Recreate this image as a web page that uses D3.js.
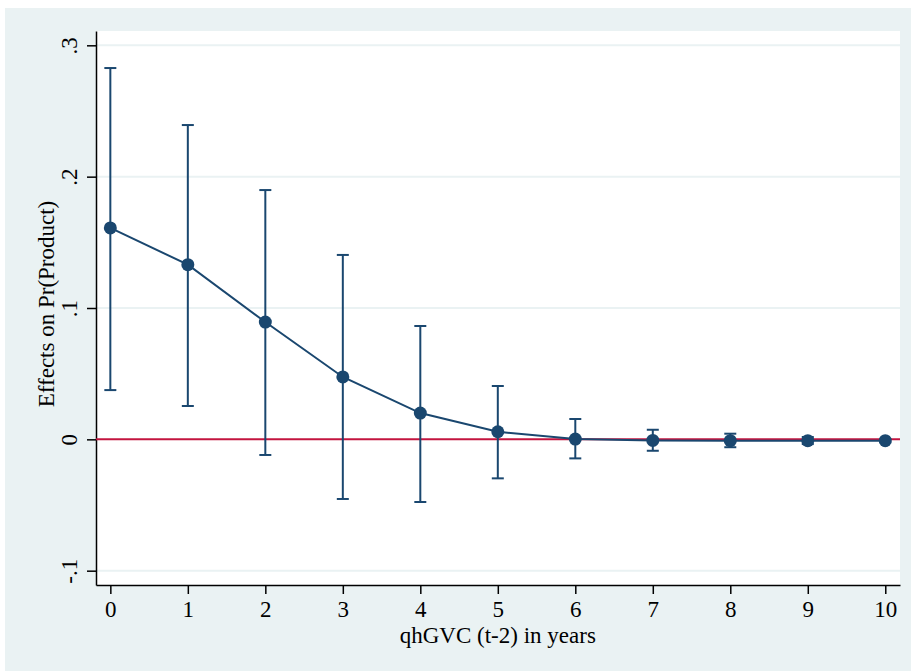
<!DOCTYPE html>
<html>
<head>
<meta charset="utf-8">
<script src="https://cdn.jsdelivr.net/npm/d3@7"></script>
<style>
  body { margin: 0; background: #fff; }
  text { font-family: "Liberation Serif", "DejaVu Serif", serif; }
</style>
</head>
<body>
<svg id="chart"></svg>
<script>
// annees de decalage
var years = [0, 1, 2, 3, 4, 5, 6, 7, 8, 9, 10];
// effets estimes et intervalles de confiance
var effects = [0.161, 0.133, 0.0893, 0.0475, 0.020, 0.0058, 0.0002, -0.0008, -0.001, -0.001, -0.001];
var upper   = [0.2827, 0.2393, 0.1898, 0.1404, 0.0863, 0.0406, 0.0155, 0.0073, 0.0043, 0.0018, 0.0002];
var lower   = [0.0375, 0.0254, -0.0119, -0.0454, -0.0477, -0.0297, -0.0145, -0.0087, -0.006, -0.0036, -0.0022];
var yTicks = [-0.1, 0, 0.1, 0.2, 0.3];
var yTickLabels = ["-.1", "0", ".1", ".2", ".3"];

var svgWidth = 911, svgHeight = 671;
var margin = { top: 31, right: 11, bottom: 86, left: 96 };
var width = svgWidth - margin.left - margin.right;
var height = svgHeight - margin.top - margin.bottom;

var navy = "#1a476f";
var red = "#c3143f";
var fontSize = 23;

var svg = d3.select("#chart")
    .attr("width", svgWidth)
    .attr("height", svgHeight);

// fond exterieur
svg.append("rect")
    .attr("x", 5).attr("y", 8)
    .attr("width", svgWidth - 5).attr("height", svgHeight - 8)
    .attr("fill", "#eaf2f3");

var g = svg.append("g")
    .attr("transform", "translate(" + margin.left + "," + margin.top + ")");

g.append("rect")
    .attr("width", width).attr("height", height)
    .attr("fill", "#fff");

var x = d3.scaleLinear().domain([-0.185, 10.19]).range([0, width]);
var y = d3.scaleLinear().domain([-0.1109, 0.3109]).range([height, 0]);

// grille
g.selectAll(".grid")
    .data(yTicks.filter(function(d) { return d !== 0; }))
    .enter().append("line")
    .attr("x1", 0).attr("x2", width)
    .attr("y1", function(d) { return y(d); })
    .attr("y2", function(d) { return y(d); })
    .attr("stroke", "#eaf2f3")
    .attr("stroke-width", 2);

// axe x
var xAxis = g.append("g")
    .attr("transform", "translate(0," + height + ")")
    .call(d3.axisBottom(x).tickValues(years).tickSizeInner(9).tickSizeOuter(0)
        .tickPadding(7).tickFormat(d3.format("d")));
xAxis.select(".domain").attr("stroke", "#000").attr("stroke-width", 1.5);
xAxis.selectAll(".tick line").attr("stroke", "#000").attr("stroke-width", 1.5);
xAxis.selectAll(".tick text").attr("font-size", fontSize).attr("fill", "#000")
    .attr("font-family", "Liberation Serif, serif");

// axe y
var yAxis = g.append("g")
    .call(d3.axisLeft(y).tickValues(yTicks).tickSizeInner(9).tickSizeOuter(0)
        .tickFormat(function(d, i) { return yTickLabels[i]; }));
yAxis.select(".domain").attr("stroke", "#000").attr("stroke-width", 1.5);
yAxis.selectAll(".tick line").attr("stroke", "#000").attr("stroke-width", 1.5);
yAxis.selectAll(".tick text")
    .attr("font-size", fontSize).attr("fill", "#000")
    .attr("font-family", "Liberation Serif, serif")
    .attr("x", null).attr("dy", null)
    .attr("text-anchor", "middle")
    .attr("transform", "translate(-19,0) rotate(-90)");

// titres des axes
svg.append("text")
    .attr("x", margin.left + x(5))
    .attr("y", 643)
    .attr("text-anchor", "middle")
    .attr("font-size", fontSize)
    .text("qhGVC (t-2) in years");

svg.append("text")
    .attr("transform", "translate(54," + (margin.top + height / 2 - 4) + ") rotate(-90)")
    .attr("text-anchor", "middle")
    .attr("font-size", fontSize)
    .text("Effects on Pr(Product)");

// ligne zero
g.append("line")
    .attr("x1", 0).attr("x2", width)
    .attr("y1", y(0)).attr("y2", y(0))
    .attr("stroke", red)
    .attr("stroke-width", 2);

var data = years.map(function(d, i) {
    return { year: d, value: effects[i], hi: upper[i], lo: lower[i] };
});

// barres d'erreur
var bars = g.selectAll(".ci").data(data).enter().append("g");
bars.append("line")
    .attr("x1", function(d) { return x(d.year); })
    .attr("x2", function(d) { return x(d.year); })
    .attr("y1", function(d) { return y(d.hi); })
    .attr("y2", function(d) { return y(d.lo); })
    .attr("stroke", navy).attr("stroke-width", 2);
bars.append("line")
    .attr("x1", function(d) { return x(d.year) - 6; })
    .attr("x2", function(d) { return x(d.year) + 6; })
    .attr("y1", function(d) { return y(d.hi); })
    .attr("y2", function(d) { return y(d.hi); })
    .attr("stroke", navy).attr("stroke-width", 2);
bars.append("line")
    .attr("x1", function(d) { return x(d.year) - 6; })
    .attr("x2", function(d) { return x(d.year) + 6; })
    .attr("y1", function(d) { return y(d.lo); })
    .attr("y2", function(d) { return y(d.lo); })
    .attr("stroke", navy).attr("stroke-width", 2);

// ligne des effets
var line = d3.line()
    .x(function(d) { return x(d.year); })
    .y(function(d) { return y(d.value); });

g.append("path")
    .datum(data)
    .attr("fill", "none")
    .attr("stroke", navy)
    .attr("stroke-width", 2)
    .attr("d", line);

g.selectAll(".pt").data(data).enter().append("circle")
    .attr("cx", function(d) { return x(d.year); })
    .attr("cy", function(d) { return y(d.value); })
    .attr("r", 6.5)
    .attr("fill", navy);
</script>
</body>
</html>
